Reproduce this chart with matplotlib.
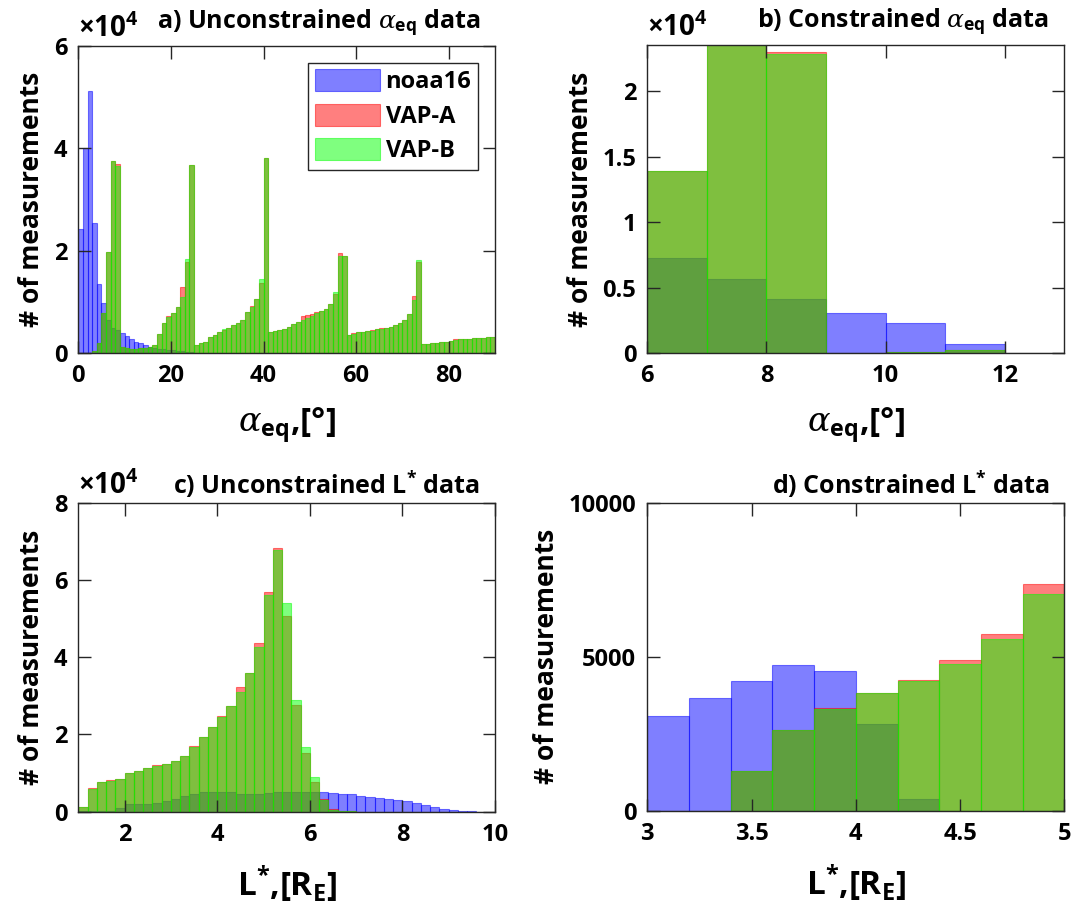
import numpy as np
import matplotlib
matplotlib.use('Agg')
import matplotlib.pyplot as plt
from matplotlib.ticker import FuncFormatter
from matplotlib.transforms import offset_copy

# -------------------------------------------------------------
# DATA (counts; panels a-c in units of 1e4)
# -------------------------------------------------------------

# a) unconstrained alpha_eq, 1 degree bins from 0 to 90
noaa_a = [2.43, 4.0, 5.13, 2.55, 1.35, 0.99, 0.65, 0.5, 0.45, 0.4,
          0.33, 0.28, 0.23, 0.2, 0.16, 0.13, 0.1, 0.09, 0.08, 0.07,
          0.06, 0.05, 0.04, 0.03, 0.02, 0.015, 0.01, 0.01, 0.005, 0.005] + [0.0] * 60
vapb_a = [0.0, 0.0, 0.01, 0.05, 0.2, 0.79, 1.98, 3.75, 3.65, 0.12,
          0.1, 0.09, 0.09, 0.1, 0.11, 0.13, 0.16, 0.37, 0.6, 0.7,
          0.78, 0.91, 1.1, 1.85, 3.68, 0.16, 0.2, 0.23, 0.32, 0.36,
          0.42, 0.47, 0.49, 0.55, 0.6, 0.65, 0.8, 0.91, 1.06, 1.46,
          3.81, 0.42, 0.43, 0.46, 0.48, 0.52, 0.58, 0.62, 0.65, 0.68,
          0.73, 0.78, 0.82, 0.87, 0.97, 1.2, 1.9, 1.9, 0.36, 0.38,
          0.41, 0.42, 0.43, 0.44, 0.47, 0.48, 0.5, 0.52, 0.55, 0.6,
          0.65, 0.77, 1.04, 1.82, 0.18, 0.19, 0.2, 0.21, 0.22, 0.23,
          0.24, 0.25, 0.27, 0.28, 0.28, 0.29, 0.3, 0.3, 0.31, 0.32]
vapa_a = [0.0, 0.0, 0.01, 0.05, 0.2, 0.79, 1.98, 3.75, 3.7, 0.12,
          0.1, 0.09, 0.09, 0.1, 0.11, 0.13, 0.16, 0.38, 0.6, 0.73,
          0.78, 0.91, 1.29, 1.78, 3.68, 0.16, 0.2, 0.23, 0.32, 0.36,
          0.42, 0.46, 0.49, 0.55, 0.6, 0.65, 0.81, 0.92, 1.06, 1.37,
          3.81, 0.42, 0.43, 0.46, 0.48, 0.52, 0.58, 0.62, 0.72, 0.75,
          0.76, 0.8, 0.82, 0.87, 0.97, 1.15, 1.95, 1.9, 0.36, 0.39,
          0.41, 0.42, 0.43, 0.45, 0.47, 0.5, 0.5, 0.52, 0.55, 0.6,
          0.65, 0.77, 1.12, 1.78, 0.18, 0.19, 0.2, 0.21, 0.22, 0.23,
          0.24, 0.27, 0.27, 0.28, 0.28, 0.29, 0.3, 0.3, 0.31, 0.32]

# b) constrained alpha_eq, 1 degree bins from 6 to 13
noaa_b = [0.723, 0.566, 0.411, 0.305, 0.228, 0.069, 0.0]
vapb_b = [1.389, 2.36, 2.285, 0.005, 0.01, 0.025, 0.002]
vapa_b = [1.389, 2.37, 2.297, 0.005, 0.01, 0.025, 0.002]

# c) unconstrained L*, 0.2 bins from 1 to 10
noaa_c = [0.01, 0.01, 0.01, 0.02, 0.1, 0.2, 0.19, 0.2, 0.23, 0.28,
          0.33, 0.4, 0.45, 0.5, 0.5, 0.5, 0.5, 0.47, 0.47, 0.47,
          0.48, 0.5, 0.52, 0.52, 0.52, 0.52, 0.52, 0.49, 0.47, 0.45,
          0.41, 0.38, 0.36, 0.33, 0.31, 0.28, 0.22, 0.17, 0.13, 0.08,
          0.04, 0.02, 0.01, 0.005, 0.003]
vapb_c = [0.13, 0.6, 0.76, 0.8, 0.85, 0.99, 1.05, 1.12, 1.18, 1.24,
          1.31, 1.43, 1.68, 1.94, 2.18, 2.44, 2.74, 3.11, 3.58, 4.27,
          5.6, 6.78, 5.41, 2.88, 1.67, 0.89, 0.3, 0.05, 0.02, 0.01,
          0.005] + [0.0] * 14
vapa_c = [0.13, 0.62, 0.78, 0.81, 0.85, 0.99, 1.05, 1.12, 1.2, 1.24,
          1.31, 1.43, 1.7, 1.94, 2.2, 2.47, 2.74, 3.22, 3.6, 4.36,
          5.7, 6.83, 5.07, 2.75, 1.51, 0.76, 0.32, 0.07, 0.02, 0.01,
          0.005] + [0.0] * 14

# d) constrained L*, 0.2 bins from 3 to 5 (raw counts)
noaa_d = [3092, 3654, 4216, 4735, 4551, 2821, 390, 0, 0, 0]
vapb_d = [0, 0, 1297, 2627, 3308, 3816, 4205, 4756, 5589, 7037]
vapa_d = [0, 0, 1297, 2627, 3340, 3816, 4248, 4897, 5740, 7351]

labels = ['noaa16', 'VAP-A', 'VAP-B']
colors = ['#0000ff', '#ff0000', '#00ff00']

# -------------------------------------------------------------
# STYLE
# -------------------------------------------------------------
plt.rcParams['font.family'] = ['Open Sans', 'DejaVu Sans']
plt.rcParams['font.weight'] = 'bold'
plt.rcParams['axes.labelweight'] = 'bold'
plt.rcParams['mathtext.fontset'] = 'custom'
plt.rcParams['mathtext.rm'] = 'Open Sans:weight=normal'
plt.rcParams['mathtext.bf'] = 'Open Sans:weight=bold'
plt.rcParams['mathtext.it'] = 'DejaVu Serif:style=italic:weight=normal'

fig = plt.figure(figsize=(10.87, 9.11), dpi=100)
W, H = 1087, 911


def make_ax(left, top, right, bottom):
    return fig.add_axes([left / W, 1 - bottom / H, (right - left) / W, (bottom - top) / H])


def hist(ax, start, width, series):
    n = len(series[0])
    edges = start + width * np.arange(n)
    for vals, col, lab in zip(series, colors, labels):
        ax.bar(edges, vals, width=width, align='edge', facecolor=col,
               edgecolor=col, alpha=0.5, linewidth=0.8, label=lab)


def style(ax, xlim, ylim, xticks, yticks, scale=None):
    ax.set_xlim(*xlim)
    ax.set_ylim(*ylim)
    ax.set_xticks(xticks)
    ax.set_yticks(yticks)
    ax.tick_params(direction='in', length=9, width=1, top=True, right=True,
                   labelsize=17, pad=8, color='#262626')
    for s in ax.spines.values():
        s.set_linewidth(1)
        s.set_color('#262626')
    ax.xaxis.set_major_formatter(FuncFormatter(lambda v, _: f'{v:g}'))
    if scale:
        ax.yaxis.set_major_formatter(FuncFormatter(lambda v, _: f'{v / scale:g}'))
        tr = offset_copy(ax.transAxes, fig=fig, x=0, y=9, units='dots')
        ax.text(0.0, 1.0, '×10$^{\\mathbf{4}}$', transform=tr,
                fontsize=20, fontweight='bold', ha='left', va='baseline')
    else:
        ax.yaxis.set_major_formatter(FuncFormatter(lambda v, _: f'{v:g}'))
    ax.set_ylabel('# of measurements', fontsize=19, labelpad=6)


def title(ax, txt, lift):
    # right aligned title, baseline lifted a fixed number of pixels above the axes
    tr = offset_copy(ax.transAxes, fig=fig, x=-15, y=lift, units='dots')
    ax.text(1.0, 1.0, txt, transform=tr, ha='right', va='baseline',
            fontsize=18, fontweight='bold')


alpha_lab = r'$\alpha_{\mathbf{eq}}$,[°]'
lstar_lab = r'L$^{\mathbf{*}}$,[R$_{\mathbf{E}}$]'

# a) unconstrained alpha_eq
ax_a = make_ax(78.3, 46, 495, 353.3)
hist(ax_a, 0, 1, [np.array(s) * 1e4 for s in (noaa_a, vapa_a, vapb_a)])
style(ax_a, (0, 90), (0, 6e4), [0, 20, 40, 60, 80], [0, 2e4, 4e4, 6e4], scale=1e4)
ax_a.set_xlabel(alpha_lab, fontsize=24, labelpad=12)
title(ax_a, r'a) Unconstrained $\alpha_{\mathbf{eq}}$ data', 18)
ax_a.legend(loc='upper right', bbox_to_anchor=(0.959, 0.946), borderaxespad=0,
            fontsize=17, handlelength=2.75, handleheight=1.06, labelspacing=0.4,
            handletextpad=0.24, borderpad=0.28, fancybox=False, framealpha=1,
            edgecolor='#262626')

# b) constrained alpha_eq
ax_b = make_ax(647.3, 45, 1064.3, 353.3)
hist(ax_b, 6, 1, [np.array(s) * 1e4 for s in (noaa_b, vapa_b, vapb_b)])
style(ax_b, (6, 13), (0, 2.35e4), [6, 8, 10, 12], [0, 0.5e4, 1e4, 1.5e4, 2e4], scale=1e4)
ax_b.set_xlabel(alpha_lab, fontsize=24, labelpad=12)
title(ax_b, r'b) Constrained $\alpha_{\mathbf{eq}}$ data', 18)

# c) unconstrained L*
ax_c = make_ax(78.3, 502.7, 495, 811.7)
hist(ax_c, 1, 0.2, [np.array(s) * 1e4 for s in (noaa_c, vapa_c, vapb_c)])
style(ax_c, (1, 10), (0, 8e4), [2, 4, 6, 8, 10], [0, 2e4, 4e4, 6e4, 8e4], scale=1e4)
ax_c.set_xlabel(lstar_lab, fontsize=24, labelpad=12)
title(ax_c, r'c) Unconstrained L$^{\mathbf{*}}$ data', 9)

# d) constrained L*
ax_d = make_ax(647.3, 502.7, 1064.3, 811)
hist(ax_d, 3, 0.2, [noaa_d, vapa_d, vapb_d])
style(ax_d, (3, 5), (0, 10000), [3, 3.5, 4, 4.5, 5], [0, 5000, 10000])
ax_d.set_xlabel(lstar_lab, fontsize=24, labelpad=12)
title(ax_d, r'd) Constrained L$^{\mathbf{*}}$ data', 9)

fig.savefig('out.png', dpi=100)
